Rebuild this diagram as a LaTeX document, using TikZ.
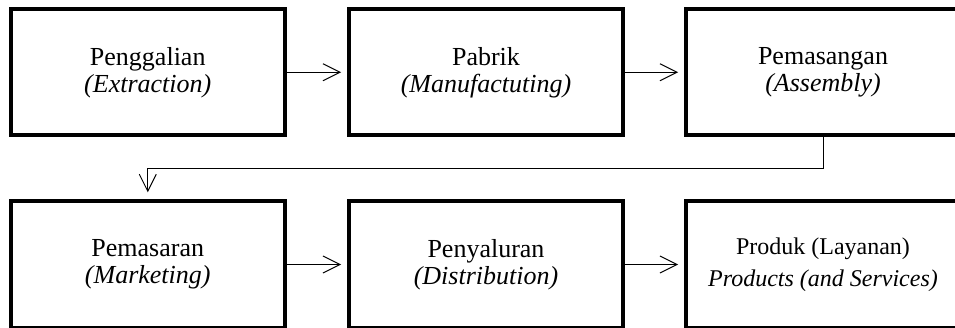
\documentclass[tikz,border=0pt]{standalone}
\usepackage{fontspec}
\setmainfont{Liberation Serif}
\usepackage{tikz}
\usetikzlibrary{arrows.meta}

\begin{document}
\begin{tikzpicture}[x=1pt,y=1pt]
            \tikzset{box/.style = {draw, line width=4pt, minimum width=274pt, minimum height=126.5pt, inner sep=0pt, align=center, font=\fontsize{26}{27}\selectfont}}
            \tikzset{conn/.style = {line width=1pt, -{Straight Barb[length=17pt,width=17pt]}, shorten >=6pt}}

            \useasboundingbox (0,0) rectangle (955,327);
            \clip (0,0) rectangle (955,327);

            % boxes
            \foreach \n/\x/\y/\a/\b in {p1/147.75/254.75/Penggalian/Extraction, p2/486/254.75/Pabrik/Manufactuting, p3/823/254.75/Pemasangan/Assembly, p4/147.75/62.5/Pemasaran/Marketing, p5/486/62.5/Penyaluran/Distribution}
            {
              \node[box] (\n) at (\x,\y) {\a\\\textit{(\b)}};
            }
            \node[box, font=\fontsize{24}{32}\selectfont] (p6) at (823,62.5) {Produk (Layanan)\\\textit{Products (and Services)}};

            % connectors
            \foreach \a/\b in {p1/p2,p2/p3,p4/p5,p5/p6} {\draw[conn] (\a) -- (\b);}
            \draw[conn, shorten >=7pt] (p3.south) -- ++(0,-31) -| (p4.north);

          \end{tikzpicture}
\end{document}
